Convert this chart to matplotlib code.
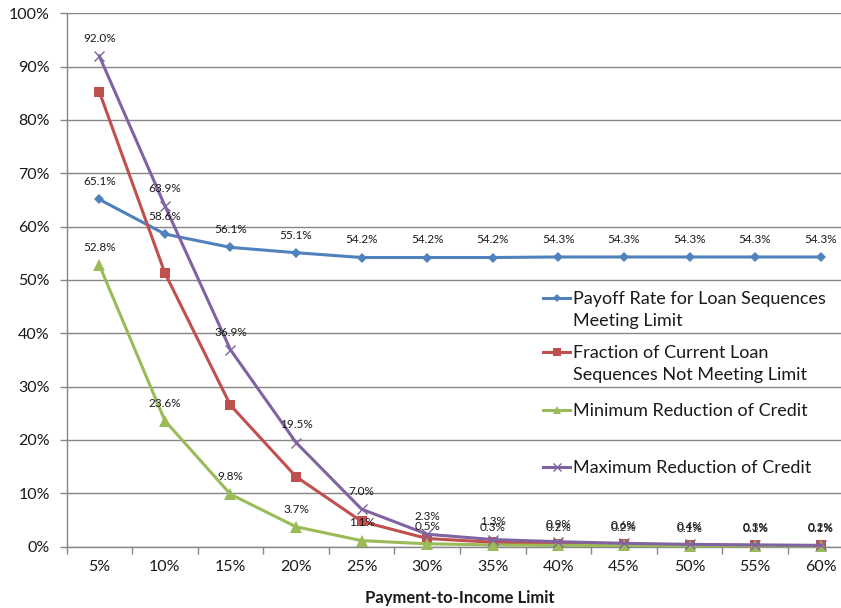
import matplotlib
matplotlib.use('Agg')
import matplotlib.pyplot as plt
from matplotlib.lines import Line2D
from matplotlib.ticker import FixedLocator, PercentFormatter

plt.rcParams['font.family'] = ['Lato', 'DejaVu Sans']

# payment-to-income limits on the x axis
limits = ['5%', '10%', '15%', '20%', '25%', '30%', '35%', '40%', '45%', '50%', '55%', '60%']

# series values, in percent
payoff = [65.1, 58.6, 56.1, 55.1, 54.2, 54.2, 54.2, 54.3, 54.3, 54.3, 54.3, 54.3]
not_meeting = [85.3, 51.3, 26.5, 13.1, 4.7, 1.5, 0.8, 0.5, 0.4, 0.3, 0.2, 0.2]
min_reduction = [52.8, 23.6, 9.8, 3.7, 1.1, 0.5, 0.3, 0.2, 0.2, 0.1, 0.1, 0.1]
max_reduction = [92.0, 63.9, 36.9, 19.5, 7.0, 2.3, 1.3, 0.9, 0.6, 0.4, 0.3, 0.2]

names = ['Payoff Rate for Loan Sequences\nMeeting Limit',
         'Fraction of Current Loan\nSequences Not Meeting Limit',
         'Minimum Reduction of Credit',
         'Maximum Reduction of Credit']

W, H = 841, 608
fig = plt.figure(figsize=(W / 100, H / 100), dpi=100)
# plot area runs a little past the right edge of the image
left, right, top, bottom = 66.5, 853.5, 13.3, 546.5
ax = fig.add_axes([left / W, 1 - bottom / H, (right - left) / W, (bottom - top) / H])

x = list(range(len(limits)))
styles = [
    dict(color='#4F81BD', marker='D', ms=5.5, lw=2.2, mew=0),
    dict(color='#C0504D', marker='s', ms=7, lw=2.2, mew=0),
    dict(color='#9BBB59', marker='^', ms=8, lw=2.2, mew=0),
    dict(color='#8064A2', marker='x', ms=6.5, lw=2.2, mew=1.0),
]
series = [payoff, not_meeting, min_reduction, max_reduction]
for vals, st in zip(series, styles):
    ax.plot(x, [v / 100 for v in vals], zorder=3, clip_on=False, **st)

# value labels above the points (the red series has none)
for vals in (payoff, min_reduction, max_reduction):
    for xi, v in zip(x, vals):
        ax.annotate('{0:.1f}%'.format(v), (xi, v / 100), xytext=(0, 12.7),
                    textcoords='offset points', ha='center', va='center',
                    fontsize=8.5, color='#1a1a1a', zorder=5)

ax.set_xlim(-0.5, len(limits) - 0.5)
ax.set_ylim(0, 1)
ax.yaxis.set_major_locator(FixedLocator([i / 10 for i in range(11)]))
ax.yaxis.set_major_formatter(PercentFormatter(1.0, decimals=0))
ax.set_xticks(x)
ax.set_xticklabels(limits)
ax.xaxis.set_minor_locator(FixedLocator([i - 0.5 for i in range(len(limits) + 1)]))
ax.tick_params(axis='x', which='major', length=0, pad=10, labelsize=11.5, colors='#1a1a1a')
ax.tick_params(axis='x', which='minor', length=5, width=1, color='#868686')
ax.tick_params(axis='y', length=5, width=1, color='#868686', pad=7, labelsize=11.5,
               labelcolor='#1a1a1a')

ax.grid(axis='y', color='#868686', lw=1)
ax.set_axisbelow(True)
for s in ('top', 'right'):
    ax.spines[s].set_visible(False)
for s in ('left', 'bottom'):
    ax.spines[s].set_color('#868686')
    ax.spines[s].set_linewidth(1)

ax.set_xlabel('Payment-to-Income Limit', fontsize=12, fontweight='bold', labelpad=11,
              color='#1a1a1a')

# legend drawn by hand so each entry sits in its own slot
rows = [298, 352, 410, 467]
for name, st, ry in zip(names, styles, rows):
    fy = 1 - ry / H
    fig.add_artist(Line2D([543 / W, 570 / W], [fy, fy], transform=fig.transFigure,
                          color=st['color'], lw=st['lw']))
    fig.add_artist(Line2D([556.5 / W], [fy], transform=fig.transFigure, color=st['color'],
                          marker=st['marker'], ms=st['ms'] * 0.8, mew=st['mew'], lw=0))
    fig.text(573 / W, fy + 7 / H, name, fontsize=13, va='top', ha='left',
             color='#1a1a1a', linespacing=1.45)

fig.savefig('out.png', dpi=100)
